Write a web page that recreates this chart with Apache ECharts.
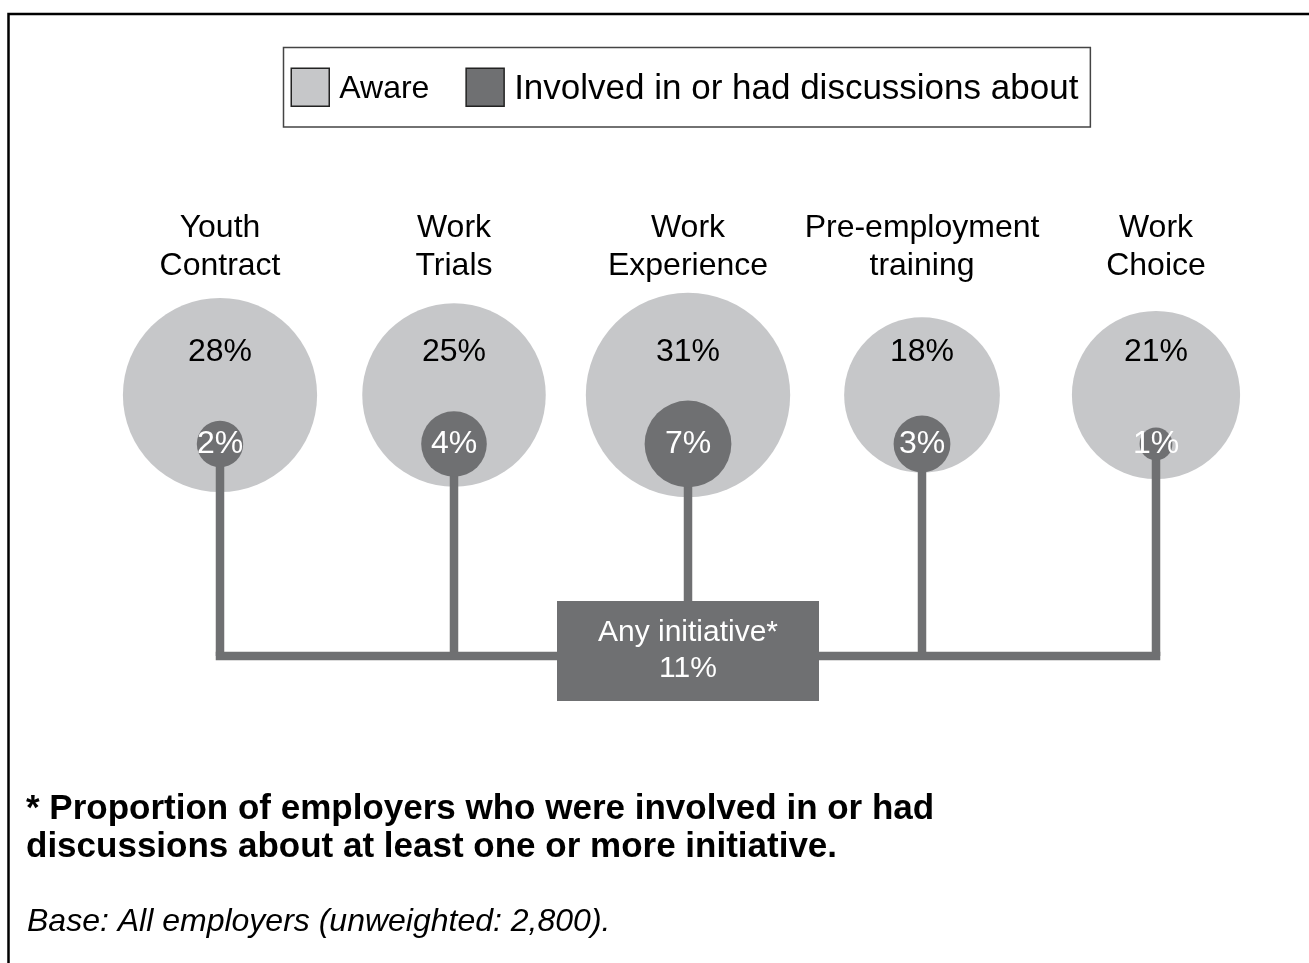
<!DOCTYPE html>
<html>
<head>
<meta charset="utf-8">
<script src="https://cdn.jsdelivr.net/npm/echarts@6/dist/echarts.min.js"></script>
<style>
  html, body { margin: 0; padding: 0; background: #fff; }
  #chart { width: 1309px; height: 963px; }
</style>
</head>
<body>
<div id="chart"></div>
<script>
// Initiatives shown as bubbles, one column each
const categories = ['Youth\nContract', 'Work\nTrials', 'Work\nExperience', 'Pre-employment\ntraining', 'Work\nChoice'];
// Share of employers aware of each initiative (%)
const aware = [28, 25, 31, 18, 21];
// Share of employers involved in or who had discussions about it (%)
const involved = [2, 4, 7, 3, 1];
// Share involved in at least one initiative (%)
const anyInitiative = 11;
// Bubble rows / legend entries
const rows = ['Aware', 'Involved in or had discussions about'];

const FONT = '"Liberation Sans", Arial, Helvetica, sans-serif';
const LIGHT = '#c6c7c9';
const DARK = '#6f7072';

const chart = echarts.init(document.getElementById('chart'), null, { renderer: 'canvas' });

const option = {
  backgroundColor: '#ffffff',
  animation: false,
  textStyle: { fontFamily: FONT },
  legend: {
    data: rows,
    left: 283.5,
    top: 47.5,
    padding: [20, 12, 20, 7],
    itemWidth: 38,
    itemHeight: 38,
    itemGap: 36,
    icon: 'rect',
    borderColor: '#444',
    borderWidth: 1.5,
    selectedMode: false,
    itemStyle: { borderColor: '#222', borderWidth: 1.5 },
    formatter: name => (name === rows[0] ? '{a|' : '{b|') + name + '}',
    textStyle: {
      color: '#000',
      fontFamily: FONT,
      padding: [4, 0, 0, 5],
      rich: {
        a: { fontSize: 32, color: '#000', fontFamily: FONT },
        b: { fontSize: 35, color: '#000', fontFamily: FONT }
      }
    }
  },
  title: [
    {
      text: '* Proportion of employers who were involved in or had\ndiscussions about at least one or more initiative.',
      left: 26,
      top: 790,
      padding: 0,
      textStyle: { fontSize: 35, fontWeight: 'bold', color: '#000', lineHeight: 38, fontFamily: FONT }
    },
    {
      text: 'Base: All employers (unweighted: 2,800).',
      left: 27,
      top: 906,
      padding: 0,
      textStyle: { fontSize: 32, fontWeight: 'normal', fontStyle: 'italic', color: '#000', fontFamily: FONT }
    }
  ],
  grid: { left: 103, width: 1170, top: 370.5, height: 98 },
  xAxis: {
    type: 'category',
    data: categories,
    position: 'top',
    axisLine: { show: false },
    axisTick: { show: false },
    splitLine: { show: false },
    axisLabel: {
      interval: 0,
      margin: 85,
      fontSize: 32,
      lineHeight: 38,
      color: '#000',
      fontFamily: FONT
    }
  },
  yAxis: {
    type: 'category',
    data: rows,
    inverse: true,
    show: false
  },
  series: [
    {
      name: rows[0],
      type: 'scatter',
      z: 1,
      data: aware.map((v, i) => [i, 0, v]),
      symbolSize: val => Math.sqrt(val[2]) * 36.7,
      itemStyle: { color: LIGHT, opacity: 1 },
      emphasis: { disabled: true },
      label: {
        show: true,
        position: 'inside',
        offset: [0, -43],
        fontSize: 32,
        color: '#000',
        fontFamily: FONT,
        formatter: p => p.value[2] + '%'
      }
    },
    {
      name: rows[1],
      type: 'scatter',
      z: 3,
      data: involved.map((v, i) => [i, 1, v]),
      symbolSize: val => Math.sqrt(val[2]) * 32.8,
      itemStyle: { color: DARK, opacity: 1 },
      emphasis: { disabled: true },
      label: {
        show: true,
        position: 'inside',
        fontSize: 32,
        color: '#fff',
        fontFamily: FONT,
        formatter: p => p.value[2] + '%'
      }
    }
  ]
};

chart.setOption(option);

// Connector tree: stems from each "involved" bubble down to a shared bar,
// with the "any initiative" box in the middle.
const connectorY = 656;
const stemWidth = 8.5;
const boxW = 262, boxH = 100, boxTop = 601;

const pts = involved.map((v, i) => chart.convertToPixel({ gridIndex: 0 }, [i, 1]));
const midX = chart.convertToPixel({ gridIndex: 0 }, [(categories.length - 1) / 2, 1])[0];

const elements = [
  {
    type: 'rect',
    z: 0,
    shape: { x: 8.5, y: 14, width: 1400, height: 1100 },
    style: { fill: 'none', stroke: '#000', lineWidth: 2.5 },
    silent: true
  }
];

pts.forEach(p => {
  elements.push({
    type: 'line',
    z: 2,
    shape: { x1: p[0], y1: p[1], x2: p[0], y2: connectorY },
    style: { stroke: DARK, lineWidth: stemWidth },
    silent: true
  });
});

elements.push({
  type: 'line',
  z: 2,
  shape: { x1: pts[0][0] - stemWidth / 2, y1: connectorY, x2: pts[pts.length - 1][0] + stemWidth / 2, y2: connectorY },
  style: { stroke: DARK, lineWidth: stemWidth },
  silent: true
});

elements.push({
  type: 'rect',
  z: 4,
  shape: { x: midX - boxW / 2, y: boxTop, width: boxW, height: boxH },
  style: { fill: DARK },
  silent: true
});

elements.push({
  type: 'text',
  z: 5,
  x: midX,
  y: boxTop + boxH / 2,
  style: {
    text: 'Any initiative*\n' + anyInitiative + '%',
    fill: '#fff',
    font: '30px ' + FONT,
    lineHeight: 36,
    align: 'center',
    verticalAlign: 'middle'
  },
  silent: true
});

chart.setOption({ graphic: { elements: elements } });
</script>
</body>
</html>
